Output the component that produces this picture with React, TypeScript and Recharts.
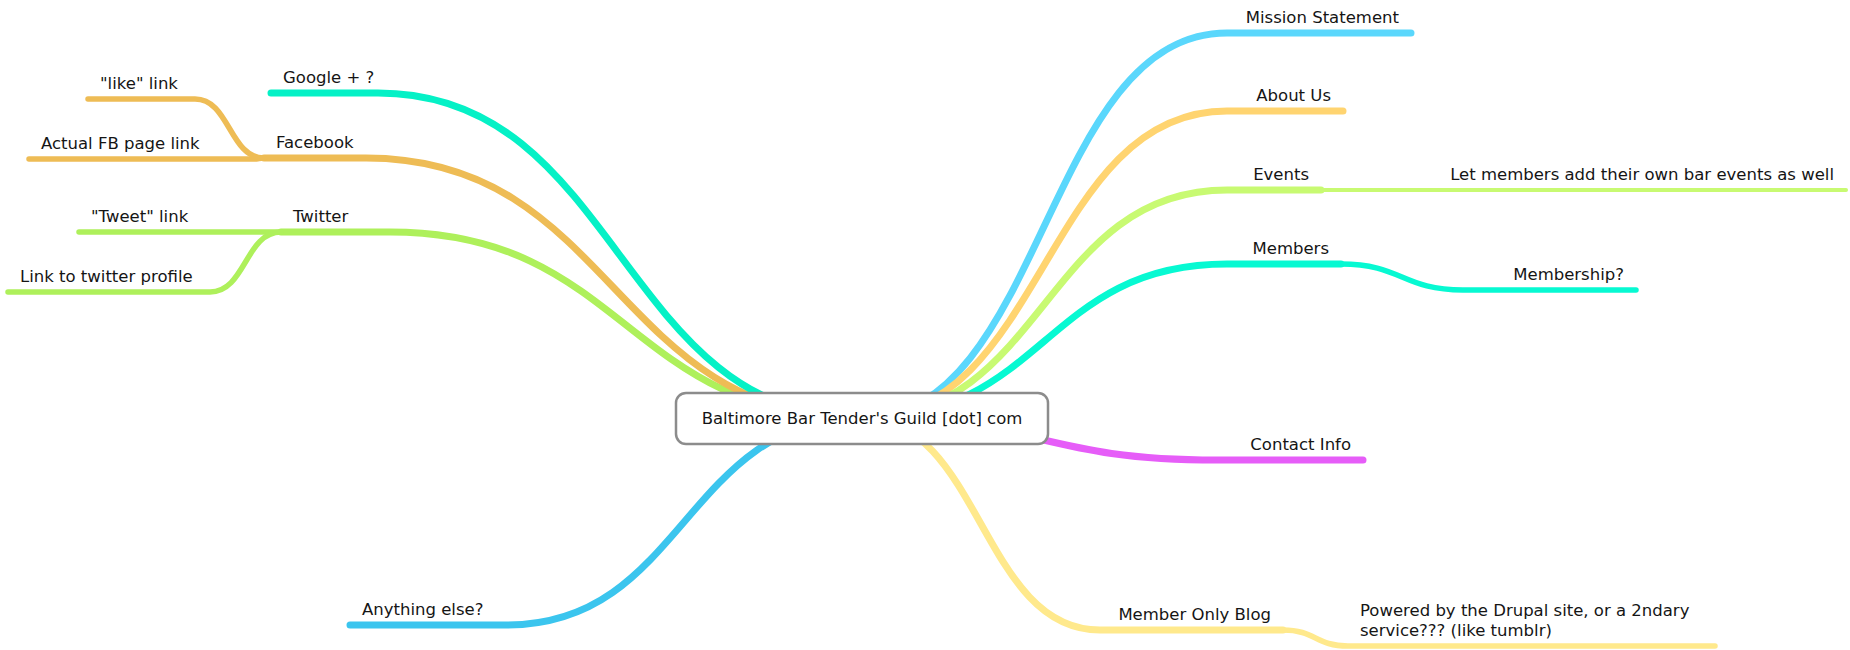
import { ComposedChart, Line, Scatter, XAxis, YAxis } from 'recharts';

// centre node of the map
const centerLabel = "Baltimore Bar Tender's Guild [dot] com";
const centerPoint = { x: 862, y: 418 };

// first-level branches: underline level, x where the curve lands, x where the underline ends
const mainLabels = [
  'Mission Statement',
  'About Us',
  'Events',
  'Members',
  'Contact Info',
  'Member Only Blog',
  'Anything else?',
  'Twitter',
  'Facebook',
  'Google + ?',
];
const mainY = [33, 111, 190, 264, 460, 630, 625, 232, 158, 93];
const mainInnerX = [1227, 1227, 1227, 1227, 1217, 1100, 507, 390, 366, 378];
const mainOuterX = [1411, 1343, 1321, 1341, 1363, 1283, 350, 281, 264, 271];
const mainColors = ['#5ad7fc', '#ffd470', '#c8fa72', '#07f9d2', '#e65df8', '#ffe98c', '#3bc5ee', '#aef05b', '#eebc55', '#05f1c6'];

// second-level branches, hanging off the end of their parent
const subLabels = [
  ['"like" link'],
  ['Actual FB page link'],
  ['"Tweet" link'],
  ['Link to twitter profile'],
  ['Let members add their own bar events as well'],
  ['Membership?'],
  ['Powered by the Drupal site, or a 2ndary', 'service??? (like tumblr)'],
];
const subParent = [8, 8, 7, 7, 2, 3, 5];
const subY = [99, 159, 232, 292, 190, 290, 646];
const subInnerX = [195, 254, 271, 210, 1430, 1463, 1348];
const subOuterX = [88, 29, 79, 8, 1846, 1636, 1715];

const FONT = '"DejaVu Sans", Verdana, sans-serif';
const FS = 16.5;
const W = 1850;
const H = 650;

const mainLines = mainLabels.map((_, i) => [
  { x: centerPoint.x, y: centerPoint.y },
  { x: mainInnerX[i], y: mainY[i] },
  { x: mainOuterX[i], y: mainY[i] },
]);

const subLines = subLabels.map((_, i) => {
  const p = subParent[i];
  return [
    { x: mainOuterX[p], y: mainY[p] },
    { x: subInnerX[i], y: subY[i] },
    { x: subOuterX[i], y: subY[i] },
  ];
});

// text sits just above the underline, pulled in from the outer end
const labelPoints = [
  ...mainLabels.map((label, i) => ({ x: mainOuterX[i], y: mainY[i], inner: mainInnerX[i], lines: [label] })),
  ...subLabels.map((lines, i) => ({ x: subOuterX[i], y: subY[i], inner: subInnerX[i], lines })),
];

function NodeLabel(props: any) {
  const { cx, cy, payload } = props;
  const right = payload.x > payload.inner;
  const lines: string[] = payload.lines;
  let tx = right ? cx - 12 : cx + 12;
  let anchor = right ? 'end' : 'start';
  if (lines.length > 1) {
    // multi-line labels are left aligned inside the node (plot is 1 unit = 1px)
    tx = cx - (payload.x - payload.inner) + 12;
    anchor = 'start';
  }
  return (
    <text x={tx} y={cy - 10 - (lines.length - 1) * 20} textAnchor={anchor} fontFamily={FONT} fontSize={FS} fill="#151515">
      {lines.map((l, k) => (
        <tspan key={k} x={tx} dy={k === 0 ? 0 : 20}>
          {l}
        </tspan>
      ))}
    </text>
  );
}

function CenterNode(props: any) {
  const { cx, cy } = props;
  return (
    <g>
      <rect x={cx - 186} y={cy - 25} width={372} height={51} rx={10} ry={10} fill="#fff" stroke="#8c8c8c" strokeWidth={2.5} />
      <text x={cx} y={cy + 6} textAnchor="middle" fontFamily={FONT} fontSize={FS} fill="#151515">
        {centerLabel}
      </text>
    </g>
  );
}

export default function App() {
  return (
    <div style={{ position: 'absolute', left: 0, top: 0, background: '#fff' }}>
      <ComposedChart width={W} height={H} margin={{ top: 0, right: 0, bottom: 0, left: 0 }}>
        <XAxis type="number" dataKey="x" domain={[0, W]} allowDataOverflow hide />
        <YAxis type="number" dataKey="y" domain={[0, H]} allowDataOverflow reversed hide />
        {mainLines.map((pts, i) => (
          <Line
            key={`m${i}`}
            data={pts}
            dataKey="y"
            type="bumpX"
            stroke={mainColors[i]}
            strokeWidth={7}
            strokeLinecap="round"
            dot={false}
            activeDot={false}
            isAnimationActive={false}
          />
        ))}
        {subLines.map((pts, i) => (
          <Line
            key={`s${i}`}
            data={pts}
            dataKey="y"
            type="bumpX"
            stroke={mainColors[subParent[i]]}
            strokeWidth={subParent[i] === 2 ? 4 : 5.5}
            strokeLinecap="round"
            dot={false}
            activeDot={false}
            isAnimationActive={false}
          />
        ))}
        <Scatter data={labelPoints} dataKey="y" shape={NodeLabel} isAnimationActive={false} />
        <Scatter data={[centerPoint]} dataKey="y" shape={CenterNode} isAnimationActive={false} />
      </ComposedChart>
    </div>
  );
}
